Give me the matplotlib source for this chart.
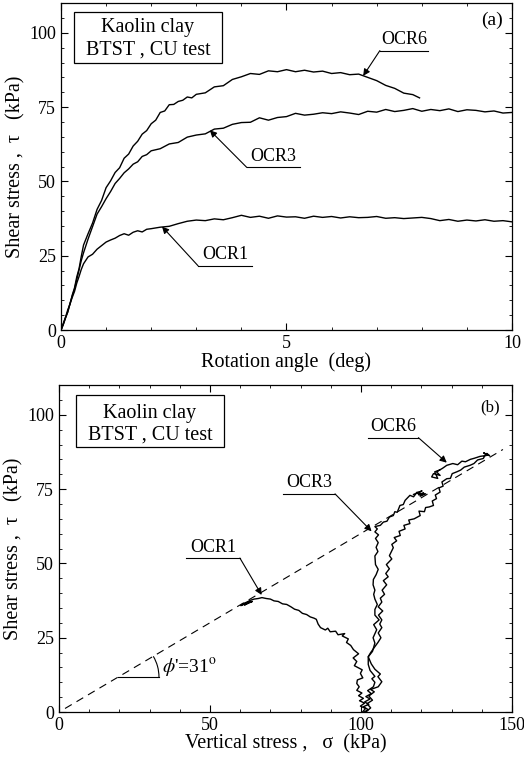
import numpy as np
import matplotlib
matplotlib.use("Agg")
import matplotlib.pyplot as plt
import matplotlib.patches as pltp
from matplotlib.ticker import MultipleLocator

plt.rcParams['font.family'] = ['Liberation Serif', 'DejaVu Serif']
plt.rcParams['mathtext.fontset'] = 'stix'

# (a) shear stress vs rotation angle
ocr6_angle = [0, 0.05, 0.1, 0.15, 0.2, 0.25, 0.3, 0.35, 0.4, 0.45, 0.5,
              0.6, 0.7, 0.8, 0.9, 1.0, 1.1, 1.2, 1.3, 1.4, 1.5,
              1.6, 1.7, 1.8, 1.9, 2.0, 2.1, 2.2, 2.3, 2.4, 2.5,
              2.6, 2.7, 2.8, 2.9, 3.0,
              3.2, 3.4, 3.6, 3.8, 4.0, 4.2, 4.4, 4.6, 4.8, 5.0, 5.2, 5.4,
              5.6, 5.8, 6.0, 6.2, 6.4, 6.6, 6.8, 7.0, 7.2, 7.4, 7.6, 7.8,
              7.95]
ocr6_tau = [0, 2.2, 4.3, 6.8, 8.7, 11.8, 14.2, 17.9, 20.6, 24.8, 28.6,
            32.4, 36.0, 40.6, 43.6, 47.9, 50.2, 53.0, 54.6, 57.8, 59.2,
            61.9, 63.5, 65.9, 67.1, 69.4, 70.6, 73.2, 73.7, 75.8, 75.9,
            76.9, 77.3, 78.4, 78.1, 79.3,
            79.8, 81.8, 82.2, 84.3, 85.2, 86.3, 86.0, 87.2, 86.9, 87.6, 86.9, 87.4,
            86.8, 87.1, 86.3, 86.6, 85.9, 86.1, 85.0, 83.9, 82.3, 81.3, 79.7, 79.2,
            78.1]

angle_long = [0, 0.05, 0.1, 0.15, 0.2, 0.25, 0.3, 0.35, 0.4, 0.45, 0.5,
              0.6, 0.7, 0.8, 0.9, 1.0, 1.1, 1.2, 1.3, 1.4, 1.5, 1.6, 1.7, 1.8, 1.9, 2.0,
              2.2, 2.4, 2.6, 2.8, 3.0, 3.2, 3.4, 3.6, 3.8, 4.0,
              4.2, 4.4, 4.6, 4.8, 5.0, 5.2, 5.4, 5.6, 5.8, 6.0,
              6.2, 6.4, 6.6, 6.8, 7.0, 7.2, 7.4, 7.6, 7.8, 8.0,
              8.2, 8.4, 8.6, 8.8, 9.0, 9.2, 9.4, 9.6, 9.8, 10.0]
ocr3_tau = [0, 1.8, 4.0, 6.2, 9.0, 11.5, 13.8, 17.0, 20.2, 23.4, 26.0,
            30.6, 34.8, 39.0, 41.5, 44.2, 46.6, 49.3, 51.0, 52.9, 54.2, 55.8, 56.6, 58.4, 59.0, 60.3,
            61.0, 62.6, 63.1, 64.9, 65.6, 66.0, 67.6, 67.9, 69.2, 69.8,
            69.9, 71.4, 70.6, 71.5, 71.8, 72.9, 72.3, 72.6, 73.1, 72.8,
            73.4, 73.0, 72.5, 73.6, 73.3, 74.2, 73.5, 73.9, 74.5, 73.6,
            74.2, 73.8, 74.4, 73.5, 74.1, 73.9, 73.4, 73.7, 73.0, 73.2]
ocr1_tau = [0, 1.9, 4.2, 6.0, 8.8, 11.0, 13.0, 15.8, 18.0, 20.4, 22.3,
            24.6, 25.5, 27.2, 28.4, 29.6, 30.3, 30.9, 31.8, 32.4, 31.9, 32.9, 33.4, 33.0, 33.9, 34.1,
            34.6, 34.9, 35.8, 36.6, 37.0, 36.8, 37.4, 37.1, 37.8, 38.6,
            37.9, 38.3, 37.6, 38.4, 38.0, 38.1, 37.6, 38.3, 37.9, 38.2,
            37.7, 38.1, 37.8, 37.9, 38.2, 37.6, 37.8, 37.5, 37.7, 37.9,
            37.5, 36.8, 37.2, 36.6, 37.0, 36.7, 37.1, 36.6, 36.8, 36.4]

# (b) stress paths
ocr1_sigma = [100.5, 101.5, 99.8, 101.2, 99.5, 100.8, 99.2, 100.3, 98.6, 99.4,
              98.6, 98.8, 100.6, 99.8, 100.4, 97.8, 98.6, 97.4, 99.2, 97.5,
              96.6, 95.2, 95.8, 93.8, 94.6, 92.4, 91.6, 89.8, 89.0, 88.2,
              86.6, 85.8, 85.2, 84.4, 83.2, 82.0, 80.6, 79.4, 78.0, 76.8,
              75.4, 74.0, 72.6, 71.2, 70.0, 68.6, 67.2, 66.0, 64.6, 63.4,
              62.2, 61.0, 60.2, 62.0, 64.0, 61.4, 63.0, 60.6]
ocr1_tau_b = [0, 1.2, 2.0, 3.0, 3.8, 4.6, 5.5, 6.4, 7.3, 8.5,
              9.6, 10.8, 11.5, 13.0, 14.2, 15.6, 17.0, 18.2, 19.6, 21.0,
              22.4, 23.4, 24.6, 25.6, 26.4, 26.0, 27.2, 27.0, 28.2, 27.6,
              28.4, 29.6, 31.2, 31.6, 32.0, 32.8, 33.2, 34.2, 34.6, 35.4,
              36.2, 36.4, 37.2, 37.4, 38.0, 38.2, 38.5, 38.2, 38.0, 37.6,
              37.0, 36.4, 35.8, 36.6, 37.2, 36.0, 37.0, 36.2]

ocr3_sigma = [101.0, 102.4, 100.8, 102.6, 101.2, 103.0, 101.6, 103.4, 102.2, 104.1,
              104.6, 103.6, 104.6, 103.0, 102.4, 102.4, 103.8, 104.6, 104.0, 105.2,
              104.2, 106.0, 104.6, 104.6, 105.4, 104.6, 104.2, 104.6, 104.0, 104.1,
              105.0, 105.7, 104.8, 104.6, 105.6, 105.0, 105.7, 104.8, 105.8, 104.6,
              105.4, 104.6, 106.4, 107.4, 108.6, 109.4, 110.7, 111.2, 112.0, 112.9,
              114.0, 114.6, 116.2, 117.4, 118.6, 119.2, 120.7, 119.6, 121.4, 118.4,
              120.2, 117.4]
ocr3_tau_b = [0, 0.8, 1.8, 2.6, 3.4, 4.4, 5.2, 6.2, 7.2, 8.5,
              10.0, 11.2, 12.0, 14.0, 16.0, 18.6, 20.4, 23.2, 25.0, 27.7,
              29.4, 31.0, 32.6, 34.5, 36.2, 38.0, 39.6, 41.0, 42.8, 44.6,
              46.2, 48.0, 49.6, 52.5, 54.0, 55.4, 57.0, 58.4, 59.6, 60.6,
              61.6, 62.4, 62.8, 63.9, 64.2, 65.6, 66.1, 67.4, 67.2, 69.5,
              69.8, 71.2, 72.9, 72.4, 74.0, 73.0, 73.8, 72.6, 73.4, 73.6,
              74.4, 73.2]

ocr6_sigma = [101.6, 103.2, 102.0, 103.8, 102.6, 104.4, 103.2, 105.7, 106.9, 105.6,
              106.4, 104.6, 103.4, 102.4, 103.2, 104.6, 105.6, 106.6, 105.7, 106.9,
              106.2, 106.9, 105.8, 107.2, 105.7, 106.9, 106.4, 107.8, 107.0, 108.5,
              107.4, 109.0, 108.2, 109.4, 108.4, 110.2, 109.4, 110.7, 110.2, 111.8,
              111.0, 113.0, 112.6, 114.6, 114.2, 116.2, 115.8, 117.6, 119.6, 119.2,
              121.0, 121.4, 122.6, 124.0, 123.6, 125.0, 124.6, 126.2, 125.8, 127.2,
              126.8, 128.4, 129.6, 130.2, 131.7, 133.0, 134.2, 136.1, 137.4, 138.6,
              140.5, 141.2, 141.7, 142.6, 140.6, 142.0, 139.4, 137.6, 136.2, 134.6,
              133.4, 132.0, 130.4, 128.4, 127.0, 125.0, 126.2, 124.0, 123.4, 125.4,
              124.4, 126.0]
ocr6_tau_b = [0, 1.4, 2.8, 4.0, 5.4, 6.8, 7.6, 8.5, 10.2, 11.9,
              12.8, 14.4, 16.2, 18.6, 20.0, 22.0, 23.4, 25.0, 26.6, 28.4,
              29.6, 31.0, 32.6, 34.0, 35.4, 37.0, 38.3, 39.6, 41.0, 42.8,
              44.2, 45.5, 46.6, 48.2, 49.6, 51.5, 52.6, 55.3, 56.4, 57.6,
              58.7, 59.4, 60.8, 61.6, 62.8, 63.4, 64.6, 65.0, 66.1, 67.6,
              67.4, 68.8, 69.0, 69.5, 71.0, 71.8, 73.0, 74.0, 75.4, 76.0,
              77.4, 78.5, 78.6, 80.2, 80.8, 81.4, 82.4, 83.0, 83.6, 84.8,
              85.3, 86.6, 87.0, 86.2, 87.2, 86.4, 86.0, 85.4, 85.0, 84.2,
              84.4, 83.2, 83.6, 83.0, 82.0, 80.8, 79.6, 80.2, 79.1, 78.6,
              80.8, 81.4]

phi_deg = 31
envelope_sigma = [2, 147]

LW = 1.0
FS = 14.5


def style_axes(ax, xmajor, xminor):
    ax.tick_params(which='both', direction='in', top=True, right=True, labelsize=13)
    ax.tick_params(which='major', length=5, width=0.8)
    ax.tick_params(which='minor', length=2.5, width=0.6)
    ax.xaxis.set_major_locator(MultipleLocator(xmajor))
    ax.xaxis.set_minor_locator(MultipleLocator(xminor))
    ax.yaxis.set_major_locator(MultipleLocator(25))
    ax.yaxis.set_minor_locator(MultipleLocator(5))
    for s in ax.spines.values():
        s.set_linewidth(0.9)


def info_box(ax, x0, y0, w, h, xc, y1, y2):
    ax.add_patch(pltp.Rectangle((x0, y0), w, h, transform=ax.transAxes,
                                fill=False, edgecolor='black', lw=0.9))
    ax.text(xc, y1, "Kaolin clay", transform=ax.transAxes, ha='center', va='center', fontsize=FS)
    ax.text(xc, y2, "BTST , CU test", transform=ax.transAxes, ha='center', va='center', fontsize=FS)


def label(ax, text, x0, x1, y, tip, from_right=False):
    ax.plot([x0, x1], [y, y], color='black', lw=0.8)
    ax.text((x0 + x1) / 2, y + 0.8, text, ha='center', va='bottom', fontsize=13)
    start = (x1, y) if from_right else (x0, y)
    ax.annotate("", xy=tip, xytext=start,
                arrowprops=dict(arrowstyle='-|>', color='black', lw=0.8,
                                mutation_scale=10, shrinkA=0, shrinkB=0))


fig = plt.figure(figsize=(5.24, 7.64), dpi=100)
ax1 = fig.add_axes([0.1164, 0.568, 0.8607, 0.428])
ax2 = fig.add_axes([0.1126, 0.068, 0.8645, 0.428])

# panel (a)
ax1.plot(ocr6_angle, ocr6_tau, color='black', lw=LW)
ax1.plot(angle_long, ocr3_tau, color='black', lw=LW)
ax1.plot(angle_long, ocr1_tau, color='black', lw=LW)
ax1.set_xlim(0, 10)
ax1.set_ylim(0, 110)
style_axes(ax1, 5, 1)
ax1.set_xlabel("Rotation angle  (deg)", fontsize=FS, labelpad=0)
ax1.set_ylabel("Shear stress ,  τ   (kPa)", fontsize=FS, labelpad=3)
info_box(ax1, 0.029, 0.817, 0.328, 0.155, 0.193, 0.924, 0.856)
ax1.text(0.956, 0.948, "(a)", transform=ax1.transAxes, ha='center', va='center', fontsize=14)
label(ax1, "OCR6", 7.07, 8.14, 94.0, (6.70, 85.5))
label(ax1, "OCR3", 4.12, 5.30, 54.7, (3.30, 67.2))
label(ax1, "OCR1", 3.04, 4.24, 21.6, (2.24, 34.8))

# panel (b)
ax2.plot(ocr1_sigma, ocr1_tau_b, color='black', lw=LW)
ax2.plot(ocr3_sigma, ocr3_tau_b, color='black', lw=LW)
ax2.plot(ocr6_sigma, ocr6_tau_b, color='black', lw=LW)
env = np.array(envelope_sigma)
ax2.plot(env, env * np.tan(np.radians(phi_deg)), color='black', lw=0.8, ls=(0, (7, 5)))
ax2.set_xlim(0, 150)
ax2.set_ylim(0, 110)
style_axes(ax2, 50, 10)
ax2.set_xlabel("Vertical stress ,   σ  (kPa)", fontsize=FS, labelpad=0)
ax2.set_ylabel("Shear stress ,  τ   (kPa)", fontsize=FS, labelpad=3)
info_box(ax2, 0.0375, 0.810, 0.3265, 0.159, 0.201, 0.914, 0.847)
ax2.text(0.951, 0.933, "(b)", transform=ax2.transAxes, ha='center', va='center', fontsize=12)
label(ax2, "OCR6", 102.4, 119.0, 92.3, (128.4, 83.9), from_right=True)
label(ax2, "OCR3", 74.3, 91.4, 73.4, (103.5, 60.8), from_right=True)
label(ax2, "OCR1", 42.2, 59.9, 51.8, (67.1, 39.4), from_right=True)

# friction angle marker
x_c = 19.6
y_c = x_c * np.tan(np.radians(phi_deg))
ax2.plot([x_c, 33.1], [y_c, y_c], color='black', lw=0.8)
r = 33.1 - x_c
px_ratio = (0.8645 * 524 / 150) / (0.428 * 764 / 110)
ax2.add_patch(pltp.Arc((x_c, y_c), 2 * r, 2 * r * px_ratio, theta1=0, theta2=phi_deg,
                       color='black', lw=0.8))
ax2.text(34.0, y_c + 3.2, r"$\phi$'=31$^{\rm o}$", fontsize=14, ha='left', va='center')

fig.savefig("out.png", dpi=100)
